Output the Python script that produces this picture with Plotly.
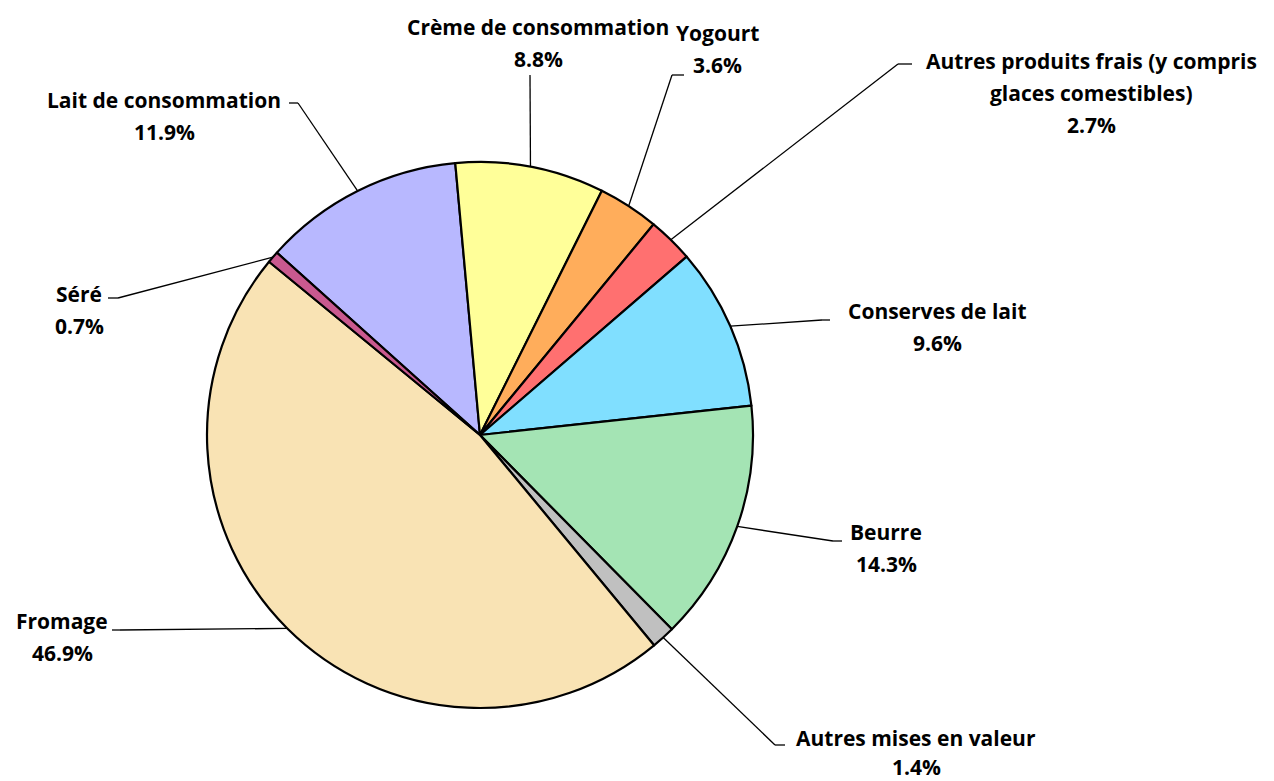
import math
import plotly.graph_objects as go

W, H = 1274, 781

# ---- data ----
categories = ["Lait de consommation", "Crème de consommation", "Yogourt",
              "Autres produits frais (y compris glaces comestibles)",
              "Conserves de lait", "Beurre", "Autres mises en valeur",
              "Fromage", "Séré"]
label_lines = [["Lait de consommation"], ["Crème de consommation"], ["Yogourt"],
               ["Autres produits frais (y compris", "glaces comestibles)"],
               ["Conserves de lait"], ["Beurre"], ["Autres mises en valeur"],
               ["Fromage"], ["Séré"]]
values = [11.9, 8.8, 3.6, 2.7, 9.6, 14.3, 1.4, 46.9, 0.7]
colors = ["#B8B8FF", "#FFFF99", "#FFAD5B", "#FF7070", "#80DFFF",
          "#A4E4B4", "#C0C0C0", "#F9E3B4", "#C9598F"]

# ---- layout (pixels) ----
cx, cy, R = 480, 435, 273
start_angle = -5.2 - 360 * values[0] / sum(values)   # clockwise from 12 o'clock
label_center_x = [164, 538, 717, 1091, 937, 886, 916, 62, 79]
label_top_y = [100, 27, 33, 61, 311, 532, 738, 621, 294]
line_gaps = [32, 32, 32, 32, 32, 32, 29, 32, 32]
elbow = [(298, 103), (530, 75), (672, 75), (898, 64), (822, 320),
         (833, 541), (775, 745), (120, 630), (118, 298)]
tick_end_x = [289, 530, 684, 912, 830, 842, 785, 112, 108]
FONT = "Open Sans"
FS = 21

def px(x):
    return x / W

def py(y):
    return 1 - y / H

fig = go.Figure(go.Pie(
    labels=categories, values=values, sort=False, direction="clockwise",
    rotation=start_angle, marker=dict(colors=colors, line=dict(color="black", width=2.2)),
    textinfo="none", hoverinfo="label+percent", showlegend=False,
    domain=dict(x=[px(cx - R), px(cx + R)], y=[py(cy + R), py(cy - R)]),
))

shapes = []
annotations = []
total = sum(values)
acc = 0
for i, v in enumerate(values):
    mid = math.radians(start_angle + 360 * (acc + v / 2) / total)
    acc += v
    ex = cx + R * math.sin(mid)
    ey = cy - R * math.cos(mid)
    bx, by = elbow[i]
    shapes.append(dict(type="line", xref="paper", yref="paper",
                       x0=px(ex), y0=py(ey), x1=px(bx), y1=py(by),
                       line=dict(color="black", width=1.3)))
    if tick_end_x[i] != bx:
        shapes.append(dict(type="line", xref="paper", yref="paper",
                           x0=px(bx), y0=py(by), x1=px(tick_end_x[i]), y1=py(by),
                           line=dict(color="black", width=1.3)))
    lines = label_lines[i] + [f"{v:.1f}%"]
    for k, t in enumerate(lines):
        annotations.append(dict(text=f"<b>{t}</b>", xref="paper", yref="paper",
                                x=px(label_center_x[i]),
                                y=py(label_top_y[i] + k * line_gaps[i]),
                                xanchor="center", yanchor="middle", showarrow=False,
                                font=dict(family=FONT, size=FS, color="black")))

fig.update_layout(width=W, height=H, margin=dict(l=0, r=0, t=0, b=0),
                  paper_bgcolor="white", plot_bgcolor="white",
                  shapes=shapes, annotations=annotations)

fig.write_html("out.html", config={"displayModeBar": False},
               post_script="document.body.style.margin='0';document.body.style.overflow='hidden';")
